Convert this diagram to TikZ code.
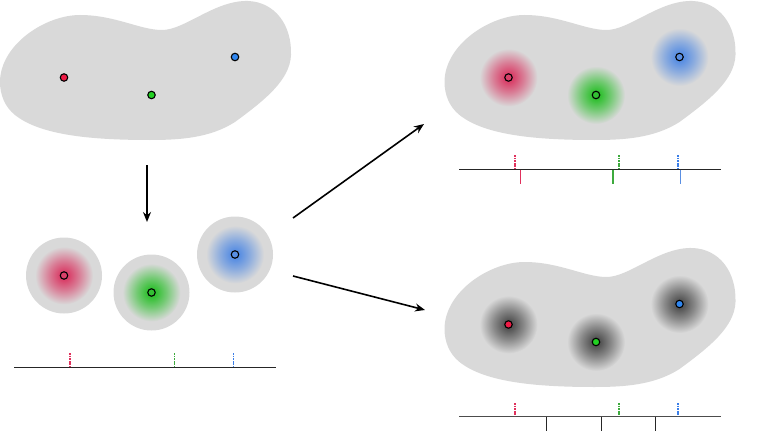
\documentclass[tikz,border=0pt]{standalone}
\usepackage{xcolor}
\usepackage{tikz}
\usetikzlibrary{arrows.meta,positioning}

\definecolor{blobgray}{HTML}{D9D9D9}
\definecolor{ptred}{HTML}{EE1C46}
\definecolor{ptgreen}{HTML}{22D022}
\definecolor{ptblue}{HTML}{2F86F0}
\definecolor{glred}{HTML}{D9416A}
\definecolor{glgreen}{HTML}{33C033}
\definecolor{glblue}{HTML}{5A8FE2}
\definecolor{gldark}{HTML}{555555}
\definecolor{tkred}{HTML}{E0305C}
\definecolor{tkgreen}{HTML}{3DAA3D}
\definecolor{tkblue}{HTML}{3A7EE8}

\pgfdeclareradialshading{shadered}{\pgfpointorigin}{color(0bp)=(glred); color(4bp)=(glred); color(13bp)=(glred!60!blobgray); color(25bp)=(blobgray); color(50bp)=(blobgray)}
\pgfdeclareradialshading{shadegreen}{\pgfpointorigin}{color(0bp)=(glgreen); color(4bp)=(glgreen); color(13bp)=(glgreen!60!blobgray); color(25bp)=(blobgray); color(50bp)=(blobgray)}
\pgfdeclareradialshading{shadeblue}{\pgfpointorigin}{color(0bp)=(glblue); color(4bp)=(glblue); color(13bp)=(glblue!60!blobgray); color(25bp)=(blobgray); color(50bp)=(blobgray)}
\pgfdeclareradialshading{shadedark}{\pgfpointorigin}{color(0bp)=(gldark); color(4bp)=(gldark); color(13bp)=(gldark!60!blobgray); color(25bp)=(blobgray); color(50bp)=(blobgray)}

\begin{document}
\begin{tikzpicture}[
    x=1pt, y=-1pt,
    dot/.style={circle, draw=black, line width=1.1pt, inner sep=0pt, minimum size=7.5pt},
    axis/.style={line width=1.6pt, draw=black!85},
    dtick/.style={line width=1.4pt, dash pattern=on 1.8pt off 0.8pt},
    stick/.style={line width=1.6pt},
    arrow/.style={line width=1.6pt, -{Stealth[length=10pt, width=8pt]}},
    blob/.pic={
        \fill[blobgray] (0,82) .. controls (0,45) and (45,15) .. (80,15)
            .. controls (115,15) and (140,30) .. (162,30)
            .. controls (185,30) and (215,0) .. (248,1)
            .. controls (275,2) and (292,25) .. (291,55)
            .. controls (290,80) and (265,100) .. (235,122)
            .. controls (210,138) and (180,140) .. (150,140)
            .. controls (90,140) and (40,135) .. (15,115)
            .. controls (5,107) and (0,95) .. (0,82) -- cycle;
    }
]
    \useasboundingbox (0,0) rectangle (776,436);

    % point sets
    \pic at (0,0) {blob};
    \node[dot, fill=ptred] (redA) at (64,77.5) {};
    \node[dot, fill=ptgreen] (greenA) at (151.5,95) {};
    \node[dot, fill=ptblue] (blueA) at (235,57) {};

    % kernels
    \foreach \c/\x/\y in {red/64/275.5, green/151.5/292.5, blue/235/254.5} {
        \fill[blobgray] (\x,\y) circle (38);
        \shade[shading=shade\c] (\x,\y) circle (29);
    }
    \node[dot, fill=glred] (redK) at (64,275.5) {};
    \node[dot, fill=glgreen] (greenK) at (151.5,292.5) {};
    \node[dot, fill=glblue] (blueK) at (235,254.5) {};

    \draw[axis] (14,367.5) -- (276,367.5);
    \draw[dtick, tkred] (70,353) -- (70,367);
    \draw[dtick, tkgreen] (174.5,353) -- (174.5,367);
    \draw[dtick, tkblue] (233.5,353) -- (233.5,367);

    % smoothed
    \pic at (444.5,0) {blob};
    \foreach \c/\x/\y in {red/508.5/77.5, green/596/95, blue/679.5/57}
        \shade[shading=shade\c] (\x,\y) circle (29);
    \node[dot, fill=glred] (redB) at (508.5,77.5) {};
    \node[dot, fill=glgreen] (greenB) at (596,95) {};
    \node[dot, fill=glblue] (blueB) at (679.5,57) {};

    \draw[axis] (459,169.5) -- (721,169.5);
    \draw[dtick, tkred] (515,155) -- (515,169);
    \draw[dtick, tkgreen] (619,155) -- (619,169);
    \draw[dtick, tkblue] (678,155) -- (678,169);
    \draw[stick, tkred] (520.5,169.5) -- (520.5,183.5);
    \draw[stick, tkgreen] (613,169.5) -- (613,183.5);
    \draw[stick, glblue] (680.5,169.5) -- (680.5,183.5);

    % gray kernels
    \pic at (444.5,247) {blob};
    \foreach \x/\y in {508.5/324.5, 596/342, 679.5/304}
        \shade[shading=shadedark] (\x,\y) circle (29);
    \node[dot, fill=ptred] (redC) at (508.5,324.5) {};
    \node[dot, fill=ptgreen] (greenC) at (596,342) {};
    \node[dot, fill=ptblue] (blueC) at (679.5,304) {};

    \draw[axis, draw=black!70] (459,416.5) -- (721,416.5);
    \draw[dtick, tkred] (515,403) -- (515,416);
    \draw[dtick, tkgreen] (619,403) -- (619,416);
    \draw[dtick, tkblue] (678,403) -- (678,416);
    \foreach \x in {546.5, 601.5, 655.5}
        \draw[stick, black!85] (\x,416.5) -- (\x,430.5);

    % arrows
    \coordinate (downTail) at (147,165);
    \coordinate (downHead) at (147,222);
    \coordinate (upTail) at (293,218);
    \coordinate (upHead) at (424,124);
    \coordinate (lowTail) at (293,276);
    \coordinate (lowHead) at (425,310);
    \draw[arrow] (downTail) -- (downHead);
    \draw[arrow] (upTail) -- (upHead);
    \draw[arrow] (lowTail) -- (lowHead);
\end{tikzpicture}
\end{document}
